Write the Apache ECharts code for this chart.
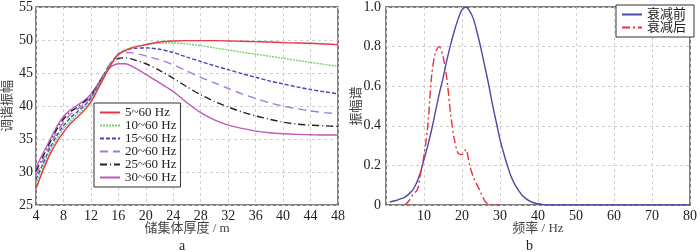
<!DOCTYPE html>
<html>
<head>
<meta charset="utf-8">
<script src="https://cdn.jsdelivr.net/npm/echarts@6/dist/echarts.min.js"></script>
<style>
  html, body { margin: 0; padding: 0; background: #fff; }
  #main { width: 700px; height: 252px; }
</style>
</head>
<body>
<div id="main"></div>
<script>
// chart a: tuning amplitude vs thickness
var thickness = [4, 5, 6, 7, 8, 9, 10, 11, 12, 13, 14, 15, 16, 17, 18, 20, 22, 24, 26, 28, 30, 32, 34, 36, 38, 40, 42, 44, 46, 48];
var band5 = [27.5, 30.2, 32.6, 34.5, 36.0, 37.3, 38.3, 39.3, 40.6, 42.5, 44.5, 46.4, 47.8, 48.4, 48.8, 49.3, 49.7, 49.85, 49.9, 49.9, 49.9, 49.85, 49.8, 49.75, 49.7, 49.6, 49.55, 49.5, 49.4, 49.3];
var band10 = [28.2, 30.7, 33.1, 35.0, 36.5, 37.7, 38.7, 39.6, 40.9, 42.8, 44.7, 46.5, 47.9, 48.5, 48.9, 49.3, 49.5, 49.55, 49.4, 49.15, 48.8, 48.5, 48.15, 47.85, 47.55, 47.25, 46.9, 46.6, 46.3, 46.0];
var band15 = [28.9, 31.2, 33.5, 35.5, 37.0, 38.2, 39.1, 40.0, 41.2, 43.0, 44.9, 46.6, 47.9, 48.4, 48.7, 48.8, 48.6, 48.1, 47.4, 46.75, 46.1, 45.5, 44.9, 44.35, 43.8, 43.35, 42.9, 42.5, 42.15, 41.85];
var band20 = [29.5, 31.8, 34.0, 36.0, 37.5, 38.7, 39.5, 40.3, 41.4, 43.1, 45.0, 46.7, 47.8, 48.1, 48.05, 47.6, 47.0, 46.25, 45.3, 44.35, 43.5, 42.65, 41.85, 41.15, 40.5, 40.0, 39.6, 39.25, 39.0, 38.85];
var band25 = [30.1, 32.3, 34.4, 36.4, 38.0, 39.1, 39.8, 40.6, 41.6, 43.2, 45.0, 46.5, 47.2, 47.3, 47.1, 46.4, 45.4, 44.2, 42.9, 41.7, 40.7, 39.85, 39.1, 38.5, 38.0, 37.55, 37.25, 37.1, 37.0, 36.9];
var band30 = [30.7, 32.8, 34.8, 36.8, 38.4, 39.4, 40.1, 40.8, 41.8, 43.3, 44.9, 46.0, 46.4, 46.4, 46.0, 44.8, 43.5, 42.2, 40.5, 39.0, 37.9, 37.1, 36.6, 36.2, 35.95, 35.8, 35.7, 35.65, 35.6, 35.6];
var bandNames = ['5~60 Hz', '10~60 Hz', '15~60 Hz', '20~60 Hz', '25~60 Hz', '30~60 Hz'];

// chart b: amplitude spectrum
var freqBefore = [1, 2, 3, 4, 5, 6, 7, 8, 9, 10, 11, 12, 13, 14, 15, 16, 17, 18, 19, 20, 21, 22, 23, 24, 25, 26, 27, 28, 29, 30, 31, 32, 33, 34, 35, 36, 37, 38, 39, 40, 41, 42, 43, 50, 60, 70, 80];
var ampBefore = [0.015, 0.02, 0.025, 0.032, 0.04, 0.055, 0.075, 0.11, 0.16, 0.23, 0.30, 0.38, 0.47, 0.56, 0.64, 0.73, 0.81, 0.88, 0.94, 0.985, 1.0, 0.98, 0.94, 0.87, 0.79, 0.70, 0.61, 0.51, 0.42, 0.33, 0.26, 0.195, 0.14, 0.10, 0.07, 0.045, 0.03, 0.018, 0.01, 0.006, 0.003, 0.001, 0, 0, 0, 0, 0];
var freqAfter = [5, 6, 7, 8, 8.5, 9, 10, 11, 12, 13, 14, 15, 16, 17, 18, 19, 20, 21, 22, 23, 24, 25, 26, 27, 28, 30];
var ampAfter = [0, 0.02, 0.05, 0.07, 0.09, 0.15, 0.25, 0.4, 0.65, 0.77, 0.8, 0.75, 0.64, 0.46, 0.33, 0.26, 0.255, 0.28, 0.2, 0.14, 0.1, 0.06, 0.02, 0.003, 0, 0];
var specNames = ['衰减前', '衰减后'];

var serif = '"Liberation Serif", "Noto Sans CJK SC", serif';

function pairs(xs, ys) {
  return xs.map(function (x, i) { return [x, ys[i]]; });
}

var chart = echarts.init(document.getElementById('main'));

var axisText = { fontFamily: serif, fontSize: 14, color: '#222' };
var gridLine = { show: true, lineStyle: { type: [3, 3], color: '#cfcfcf', width: 1 } };
var nameText = { fontFamily: serif, fontSize: 13, color: '#444' };

var bandStyles = [
  { color: '#e8364a', type: 'solid' },
  { color: '#78d068', type: [2, 1] },
  { color: '#4646b8', type: [4, 2] },
  { color: '#a878d8', type: [8, 5] },
  { color: '#222222', type: [7, 3, 1, 3] },
  { color: '#c058b8', type: 'solid' }
];
var bandData = [band5, band10, band15, band20, band25, band30];

var series = bandData.map(function (ys, i) {
  return {
    name: bandNames[i],
    type: 'line',
    xAxisIndex: 0,
    yAxisIndex: 0,
    smooth: 0.3,
    symbol: 'none',
    data: pairs(thickness, ys),
    lineStyle: { width: 1.4, color: bandStyles[i].color, type: bandStyles[i].type },
    itemStyle: { color: bandStyles[i].color },
    z: 10 - i
  };
});

series.push({
  name: specNames[0],
  type: 'line',
  xAxisIndex: 1,
  yAxisIndex: 1,
  smooth: 0.3,
  symbol: 'none',
  data: pairs(freqBefore, ampBefore),
  lineStyle: { width: 1.4, color: '#4a4aa6' },
  itemStyle: { color: '#4a4aa6' }
});
series.push({
  name: specNames[1],
  type: 'line',
  xAxisIndex: 1,
  yAxisIndex: 1,
  smooth: 0.3,
  symbol: 'none',
  data: pairs(freqAfter, ampAfter),
  lineStyle: { width: 1.4, color: '#e8303e', type: [8, 3, 2, 3] },
  itemStyle: { color: '#e8303e' }
});

var option = {
  animation: false,
  textStyle: { fontFamily: serif },
  grid: [
    { left: 29, right: 362, top: 5, bottom: 47, show: true, borderColor: '#555', borderWidth: 1.5, backgroundColor: 'transparent' },
    { left: 386, right: 6, top: 5, bottom: 47, show: true, borderColor: '#555', borderWidth: 1.5, backgroundColor: 'transparent' }
  ],
  xAxis: [
    {
      type: 'value', gridIndex: 0, min: 4, max: 48, interval: 4,
      axisLine: { show: false }, axisTick: { show: false },
      axisLabel: Object.assign({ margin: 4 }, axisText),
      splitLine: gridLine,
      name: '储集体厚度 / m', nameLocation: 'middle', nameGap: 17, nameMoveOverlap: false,
      nameTextStyle: nameText
    },
    {
      type: 'value', gridIndex: 1, min: 0, max: 80, interval: 10,
      axisLine: { show: false }, axisTick: { show: false },
      axisLabel: Object.assign({ margin: 4, formatter: function (v) { return v === 0 ? '' : String(v); } }, axisText),
      splitLine: gridLine,
      name: '频率 / Hz', nameLocation: 'middle', nameGap: 17, nameMoveOverlap: false,
      nameTextStyle: nameText
    }
  ],
  yAxis: [
    {
      type: 'value', gridIndex: 0, min: 25, max: 55, interval: 5,
      axisLine: { show: false }, axisTick: { show: false },
      axisLabel: Object.assign({ margin: 3 }, axisText),
      splitLine: gridLine,
      name: '调谐振幅', nameLocation: 'middle', nameGap: 22, nameRotate: 90, nameMoveOverlap: false,
      nameTextStyle: nameText
    },
    {
      type: 'value', gridIndex: 1, min: 0, max: 1, interval: 0.2,
      axisLine: { show: false }, axisTick: { show: false },
      axisLabel: Object.assign({ margin: 5, formatter: function (v) { return v === 0 ? '0' : v.toFixed(1); } }, axisText),
      splitLine: gridLine,
      name: '振幅谱', nameLocation: 'middle', nameGap: 23, nameRotate: 90, nameMoveOverlap: false,
      nameTextStyle: nameText
    }
  ],
  legend: [
    {
      data: bandNames,
      orient: 'vertical',
      left: 94, top: 103,
      backgroundColor: '#fff',
      borderColor: '#333', borderWidth: 1,
      padding: [3, 4, 3, 5],
      itemWidth: 20, itemHeight: 12, itemGap: 0,
      itemStyle: { opacity: 0 },
      textStyle: { fontFamily: serif, fontSize: 13, color: '#222', lineHeight: 12 }
    },
    {
      data: specNames,
      orient: 'vertical',
      right: 6, top: 5,
      backgroundColor: '#fff',
      borderColor: '#333', borderWidth: 1,
      padding: [3, 8, 3, 5],
      itemWidth: 20, itemHeight: 12, itemGap: 0,
      itemStyle: { opacity: 0 },
      textStyle: { fontFamily: serif, fontSize: 13, color: '#222', lineHeight: 12 }
    }
  ],
  graphic: [
    { type: 'text', left: 179, top: 239, style: { text: 'a', font: '14px ' + serif, fill: '#222' } },
    { type: 'text', left: 526, top: 239, style: { text: 'b', font: '14px ' + serif, fill: '#222' } }
  ],
  series: series
};

chart.setOption(option);
</script>
</body>
</html>
